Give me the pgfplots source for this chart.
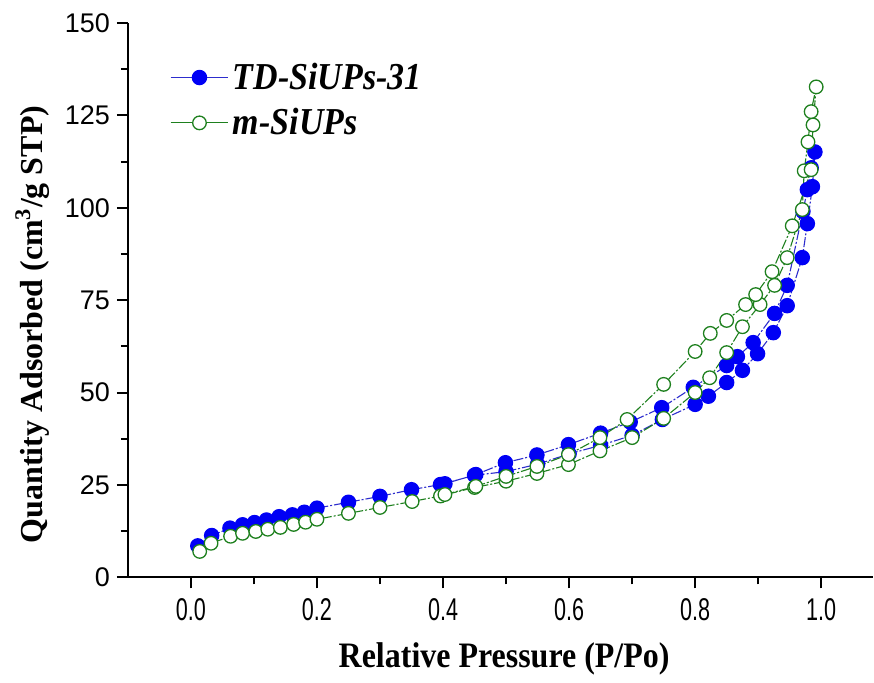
\documentclass[border=0pt]{standalone}
\usepackage{pgfplots}
\pgfplotsset{compat=1.18}
\usepackage{graphicx}
\usepackage{fontspec}
\setmainfont{Liberation Serif}
\newfontfamily\arial{Liberation Sans}

\definecolor{tdblue}{RGB}{0,0,245}
\definecolor{tdline}{RGB}{45,45,205}
\definecolor{mgreen}{RGB}{30,128,30}

\begin{document}
\begin{tikzpicture}
\path (-64pt,-51.5pt) rectangle (373pt,289pt);
\begin{axis}[
  at={(0,0)}, anchor=south west,
  scale only axis, width=373pt, height=277.5pt,
  xmin=-0.1, xmax=1.082, ymin=0, ymax=150,
  axis lines*=left,
  axis line style={line width=1.1pt, black},
  xtick={0,0.2,0.4,0.6,0.8,1.0},
  ytick={0,25,50,75,100,125,150},
  minor xtick={0.1,0.3,0.5,0.7,0.9},
  minor ytick={12.5,37.5,62.5,87.5,112.5,137.5},
  tick align=outside,
  major tick length=5.5pt, minor tick length=3.5pt,
  every tick/.style={black, line width=1pt},
  /pgf/number format/assume math mode=true,
  xticklabel={\scalebox{0.72}[1.05]{\pgfmathprintnumber[fixed,fixed zerofill,precision=1]{\tick}}},
  yticklabel={\pgfmathprintnumber[fixed,precision=0]{\tick}},
  x tick label style={font=\arial\fontsize{15}{15}\selectfont, yshift=-1.5pt},
  y tick label style={font=\arial\fontsize{13.5}{13.5}\selectfont},
  xlabel={\scalebox{1}[1.12]{Relative Pressure (P/Po)}},
  ylabel={Quantity Adsorbed (cm\textsuperscript{3}/g STP)},
  label style={font=\fontsize{16}{16}\selectfont\bfseries},
  xlabel style={at={(axis description cs:0.505,-0.148)}, anchor=center},
  ylabel style={at={(axis description cs:-0.128,0.456)}, anchor=center},
  legend style={at={(axis description cs:0.056,0.936)}, anchor=north west,
    draw=none, fill=none, inner sep=0pt, row sep=4pt,
    font=\fontsize{17}{17}\selectfont\bfseries\itshape,
    cells={anchor=west}},
  legend image code/.code={\draw[#1, solid, mark repeat=2, mark phase=2] plot coordinates {(0pt,0pt) (14.5pt,0pt) (29pt,0pt)};},
]
\addplot[color=tdline, line width=0.55pt, dash pattern=on 5pt off 1pt on 1pt off 1pt,
  mark=*, mark size=3.6pt, mark options={solid, draw=tdblue, fill=tdblue}]
coordinates {
(0.011,8.5) (0.033,11.3) (0.062,13.3) (0.082,14.2) (0.101,14.8) (0.120,15.5)
(0.140,16.4) (0.161,16.9) (0.180,17.6) (0.200,18.7) (0.250,20.3) (0.300,21.9)
(0.350,23.7) (0.396,25.1) (0.450,27.6) (0.500,28.6) (0.550,30.6) (0.600,33.4)
(0.650,35.7) (0.700,38.4) (0.748,42.7) (0.800,46.8) (0.821,49.0) (0.850,52.7)
(0.875,56.0) (0.899,60.5) (0.924,66.2) (0.946,73.5) (0.970,86.5) (0.978,95.7)
(0.986,105.7) (0.990,115.1)
(0.984,110.8) (0.978,104.9) (0.971,99.0) (0.946,79.0) (0.926,71.4) (0.892,63.5)
(0.867,59.7) (0.850,57.3) (0.797,51.4) (0.747,45.9) (0.697,42.0) (0.650,39.0)
(0.599,35.9) (0.549,33.1) (0.499,31.0) (0.452,27.8) (0.403,25.3)
};
\addlegendentry{\scalebox{1}[1.12]{TD-SiUPs-31}}
\addplot[color=mgreen, line width=0.55pt, dash pattern=on 5pt off 1pt on 1pt off 1pt,
  mark=*, mark size=3.4pt, mark options={solid, draw=mgreen, fill=white, line width=0.65pt}]
coordinates {
(0.014,7.0) (0.032,9.2) (0.063,11.1) (0.082,11.9) (0.103,12.4) (0.122,13.0)
(0.142,13.5) (0.163,14.3) (0.182,14.9) (0.200,15.7) (0.250,17.3) (0.300,18.9)
(0.351,20.5) (0.396,22.0) (0.450,24.3) (0.500,26.0) (0.549,28.1) (0.599,30.5)
(0.649,34.2) (0.700,37.8) (0.750,43.0) (0.800,50.0) (0.823,54.0) (0.850,60.8)
(0.875,67.8) (0.903,73.8) (0.926,79.0) (0.946,86.5) (0.970,99.5) (0.973,110.0)
(0.979,117.8) (0.984,126.0) (0.992,132.7)
(0.987,122.4) (0.984,110.3) (0.954,95.1) (0.922,82.7) (0.896,76.5) (0.880,73.8)
(0.850,69.5) (0.824,66.0) (0.800,61.1) (0.750,52.2) (0.692,42.7) (0.649,37.8)
(0.599,33.2) (0.549,30.0) (0.500,27.3) (0.452,24.6) (0.403,22.4)
};
\addlegendentry{\scalebox{1}[1.12]{m-SiUPs}}
\end{axis}
\end{tikzpicture}
\end{document}
